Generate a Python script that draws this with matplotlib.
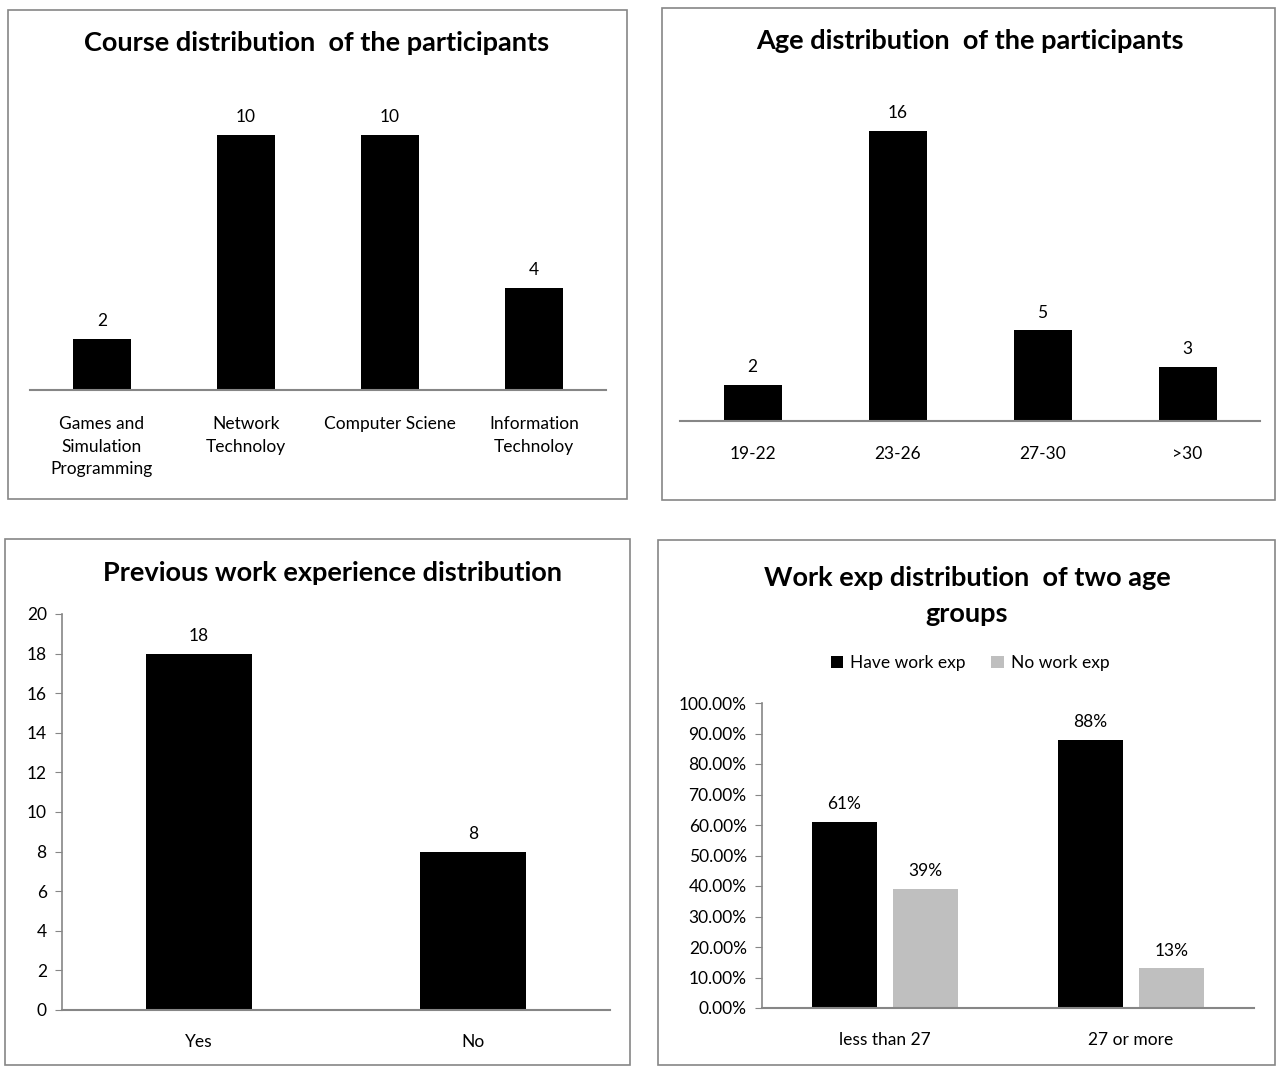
import numpy as np
import matplotlib.pyplot as plt
from matplotlib.patches import Rectangle
from matplotlib.ticker import PercentFormatter

plt.rcParams['font.family'] = ['Lato', 'DejaVu Sans']

# data
courses = ["Games and\nSimulation\nProgramming", "Network\nTechnoloy", "Computer Sciene", "Information\nTechnoloy"]
course_counts = [2, 10, 10, 4]

age_groups = ["19-22", "23-26", "27-30", ">30"]
age_counts = [2, 16, 5, 3]

work_labels = ["Yes", "No"]
work_counts = [18, 8]

two_groups = ["less than 27", "27 or more"]
have_exp = [0.61, 0.88]
no_exp = [0.39, 0.13]

W, H = 1276, 1066
fig = plt.figure(figsize=(W / 100, H / 100), dpi=100)
GRAY = "#868686"
TITLE = dict(ha="center", va="center", fontsize=19.5, fontweight="bold")


def box(x0, y0, x1, y1):
    # pixel box (top-left origin) -> figure fraction
    return [x0 / W, 1 - y1 / H, (x1 - x0) / W, (y1 - y0) / H]


def frame(x0, y0, x1, y1):
    fig.patches.append(Rectangle((x0 / W, 1 - y1 / H), (x1 - x0) / W, (y1 - y0) / H,
                                 transform=fig.transFigure, fill=False, edgecolor=GRAY, lw=1.2))


def style(ax, show_y=False, pad=18):
    for s in ["top", "right"]:
        ax.spines[s].set_visible(False)
    ax.spines["bottom"].set_color(GRAY)
    ax.spines["bottom"].set_linewidth(1.5)
    ax.tick_params(axis="x", length=0, pad=pad, labelsize=12.5)
    if show_y:
        ax.spines["left"].set_color(GRAY)
        ax.spines["left"].set_linewidth(1.2)
        ax.tick_params(axis="y", length=5, color=GRAY, labelsize=12.5, pad=6)
    else:
        ax.spines["left"].set_visible(False)
        ax.set_yticks([])


def labels(ax, bars, texts):
    for b, t in zip(bars, texts):
        ax.annotate(t, (b.get_x() + b.get_width() / 2, b.get_height()), xytext=(0, 7),
                    textcoords="offset points", ha="center", va="bottom", fontsize=12.5)


frame(8, 10, 627, 499)
frame(662, 8, 1275, 500)
frame(5, 539, 630, 1065)
frame(658, 540, 1275, 1065)

# panel 1
ax1 = fig.add_axes(box(30, 84, 606, 390))
x = np.arange(len(courses))
b = ax1.bar(x, course_counts, width=0.4, color="black")
ax1.set_xlim(-0.5, 3.5)
ax1.set_ylim(0, 12)
ax1.set_xticks(x, courses, linespacing=1.5, va="top")
style(ax1, pad=19)
labels(ax1, b, [str(v) for v in course_counts])
fig.text(317 / W, 1 - 43 / H, "Course distribution  of the participants", **TITLE)

# panel 2
ax2 = fig.add_axes(box(680, 95, 1260, 421))
x = np.arange(len(age_groups))
b = ax2.bar(x, age_counts, width=0.4, color="black")
ax2.set_xlim(-0.5, 3.5)
ax2.set_ylim(0, 18)
ax2.set_xticks(x, age_groups)
style(ax2, pad=18)
labels(ax2, b, [str(v) for v in age_counts])
fig.text(970 / W, 1 - 41 / H, "Age distribution  of the participants", **TITLE)

# panel 3
ax3 = fig.add_axes(box(62, 614, 610, 1010))
x = np.arange(len(work_labels))
b = ax3.bar(x, work_counts, width=0.39, color="black")
ax3.set_xlim(-0.5, 1.5)
ax3.set_ylim(0, 20)
ax3.set_yticks(range(0, 21, 2))
ax3.set_xticks(x, work_labels)
style(ax3, show_y=True, pad=17)
labels(ax3, b, [str(v) for v in work_counts])
fig.text(332 / W, 1 - 573 / H, "Previous work experience distribution", **TITLE)

# panel 4
ax4 = fig.add_axes(box(762, 703, 1254, 1008))
x = np.arange(len(two_groups))
b1 = ax4.bar(x - 0.165, have_exp, width=0.265, color="black", label="Have work exp")
b2 = ax4.bar(x + 0.165, no_exp, width=0.265, color="#bfbfbf", label="No work exp")
ax4.set_xlim(-0.5, 1.5)
ax4.set_ylim(0, 1)
ax4.set_yticks(np.arange(0, 1.01, 0.1))
ax4.yaxis.set_major_formatter(PercentFormatter(1, decimals=2))
ax4.set_xticks(x, two_groups)
style(ax4, show_y=True, pad=17)
labels(ax4, b1, [f"{round(v * 100)}%" for v in have_exp])
labels(ax4, b2, [f"{round(v * 100)}%" for v in no_exp])
fig.text(967 / W, 1 - 596 / H, "Work exp distribution  of two age\ngroups", linespacing=1.65, **TITLE)
ax4.legend(loc="center", bbox_to_anchor=(970 / W, 1 - 663 / H), bbox_transform=fig.transFigure,
           ncol=2, frameon=False, fontsize=12.5, handlelength=0.7, handleheight=0.7,
           handletextpad=0.4, columnspacing=1.5)

fig.savefig("out.png", dpi=100)
